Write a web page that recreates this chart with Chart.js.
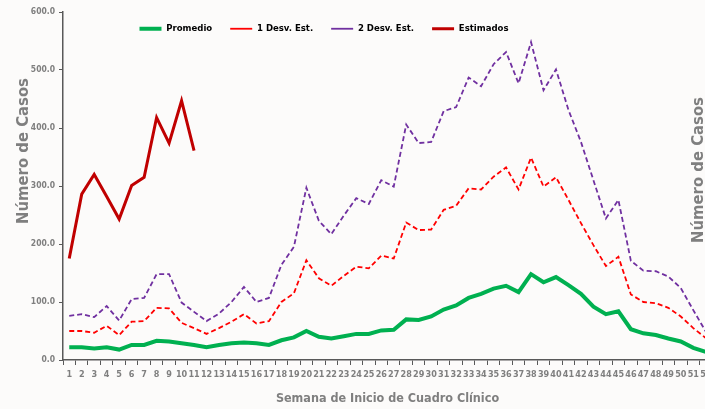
<!DOCTYPE html>
<html lang="es">
<head>
    <meta charset="UTF-8">
    <title>Casos por Semana</title>
    <script src="https://cdn.jsdelivr.net/npm/chart.js"></script>
    <style>
        body {
            margin: 0;
            background: #fcfbfa;
            overflow: hidden;
        }
        #wrap {
            width: 720px;
            height: 409px;
        }
    </style>
</head>
<body>
    <div id="wrap"><canvas id="casosChart"></canvas></div>

    <script>
        const semanas = ["1","2","3","4","5","6","7","8","9","10","11","12","13","14","15","16","17","18","19","20",
                         "21","22","23","24","25","26","27","28","29","30","31","32","33","34","35","36","37","38","39","40",
                         "41","42","43","44","45","46","47","48","49","50","51","52"];
        const promedio = [22,22,20,22,18,26,26,33,32,29,26,22,26,29,30,29,26,34,39,50,40,37,41,45,45,51,
                          52,70,69,75,87,94,107,114,123,128,117,148,134,143,129,114,92,79,84,53,46,43,37,32,21,14];
        const desv1 = [50,50,47,59,43,66,67,90,89,64,55,45,55,66,79,63,67,100,115,172,141,128,145,161,158,180,
                       175,237,224,225,259,266,296,294,316,332,294,349,299,315,276,236,198,162,178,113,100,98,90,75,55,38];
        const desv2 = [76,79,74,93,68,105,107,148,148,99,83,67,80,100,126,100,107,164,195,297,240,217,249,279,269,310,
                       299,406,374,376,429,436,487,472,510,531,477,548,465,501,431,376,310,244,276,171,154,153,144,124,86,49];
        const estimados = [175,286,320,282,243,301,315,418,374,447,361];

        const FONT = "'DejaVu Sans Condensed', 'DejaVu Sans', sans-serif";
        const GRAY = "#7f7f7f";
        const AXIS = "#595959";

        // side titles: "Número de Casos" left and the cut one on the right
        const sideTitles = {
            id: "sideTitles",
            afterDraw(chart) {
                const ctx = chart.ctx;
                ctx.save();
                ctx.font = "bold 16.5px " + FONT;
                ctx.fillStyle = GRAY;
                ctx.textAlign = "center";
                ctx.textBaseline = "middle";
                [[24, 151], [699, 170]].forEach(([x, y]) => {
                    ctx.save();
                    ctx.translate(x, y);
                    ctx.rotate(-Math.PI / 2);
                    ctx.fillText("Número de Casos", 0, 0);
                    ctx.restore();
                });
                ctx.restore();
            }
        };

        // legend floats inside the plot (takes no layout space), left of centre
        const moveLegend = {
            id: "moveLegend",
            beforeLayout(chart) {
                const lg = chart.legend;
                if (lg && !lg.patched) {
                    const fit = lg.fit;
                    lg.fit = function () { fit.call(this); this.height = 0; };
                    lg.patched = true;
                }
            },
            afterLayout(chart) {
                const lg = chart.legend;
                lg.left = 24;
                lg.right = 624;
                lg.top = 6;
                lg.bottom = 50;
            }
        };

        let ctx = document.getElementById("casosChart").getContext("2d");
        let chart = new Chart(ctx, {
            type: "line",
            data: {
                labels: semanas,
                datasets: [
                    { label: "Promedio", data: promedio, borderColor: "#00b050", backgroundColor: "#00b050", borderWidth: 4 },
                    { label: "1 Desv. Est.", data: desv1, borderColor: "#ff0000", backgroundColor: "#ff0000", borderWidth: 1.8, borderDash: [5, 3] },
                    { label: "2 Desv. Est.", data: desv2, borderColor: "#7030a0", backgroundColor: "#7030a0", borderWidth: 1.8, borderDash: [5, 3] },
                    { label: "Estimados", data: estimados, borderColor: "#c00000", backgroundColor: "#c00000", borderWidth: 3 }
                ]
            },
            options: {
                responsive: true,
                maintainAspectRatio: false,
                animation: false,
                elements: { point: { radius: 0 }, line: { tension: 0 } },
                layout: { padding: { top: 12, right: 8, left: 0, bottom: 0 } },
                plugins: {
                    legend: {
                        position: "top",
                        align: "center",
                        labels: {
                            usePointStyle: true,
                            pointStyle: "line",
                            pointStyleWidth: 22,
                            padding: 18,
                            color: "#000",
                            font: { family: FONT, size: 9.5, weight: "bold" }
                        }
                    },
                    tooltip: { enabled: false }
                },
                scales: {
                    x: {
                        offset: true,
                        grid: { drawOnChartArea: false, offset: true, tickLength: 5, color: AXIS },
                        border: { color: AXIS, width: 1.5 },
                        ticks: {
                            autoSkip: false, maxRotation: 0, minRotation: 0, padding: 4,
                            color: GRAY,
                            font: { family: FONT, size: 9, weight: "bold" }
                        },
                        title: {
                            display: true,
                            text: "Semana de Inicio de Cuadro Clínico",
                            color: GRAY,
                            font: { family: FONT, size: 12.5, weight: "bold" },
                            padding: { top: 0, bottom: 3 }
                        },
                        afterFit(s) { s.height = 49; }
                    },
                    y: {
                        min: 0,
                        max: 600,
                        grid: { drawOnChartArea: false, tickLength: 4, color: AXIS },
                        border: { color: AXIS, width: 1.5 },
                        ticks: {
                            stepSize: 100,
                            padding: 4,
                            color: GRAY,
                            font: { family: FONT, size: 8.5, weight: "bold" },
                            callback: v => v.toFixed(1)
                        },
                        afterFit(s) { s.width = 63; }
                    }
                }
            },
            plugins: [sideTitles, moveLegend]
        });
    </script>
</body>
</html>
